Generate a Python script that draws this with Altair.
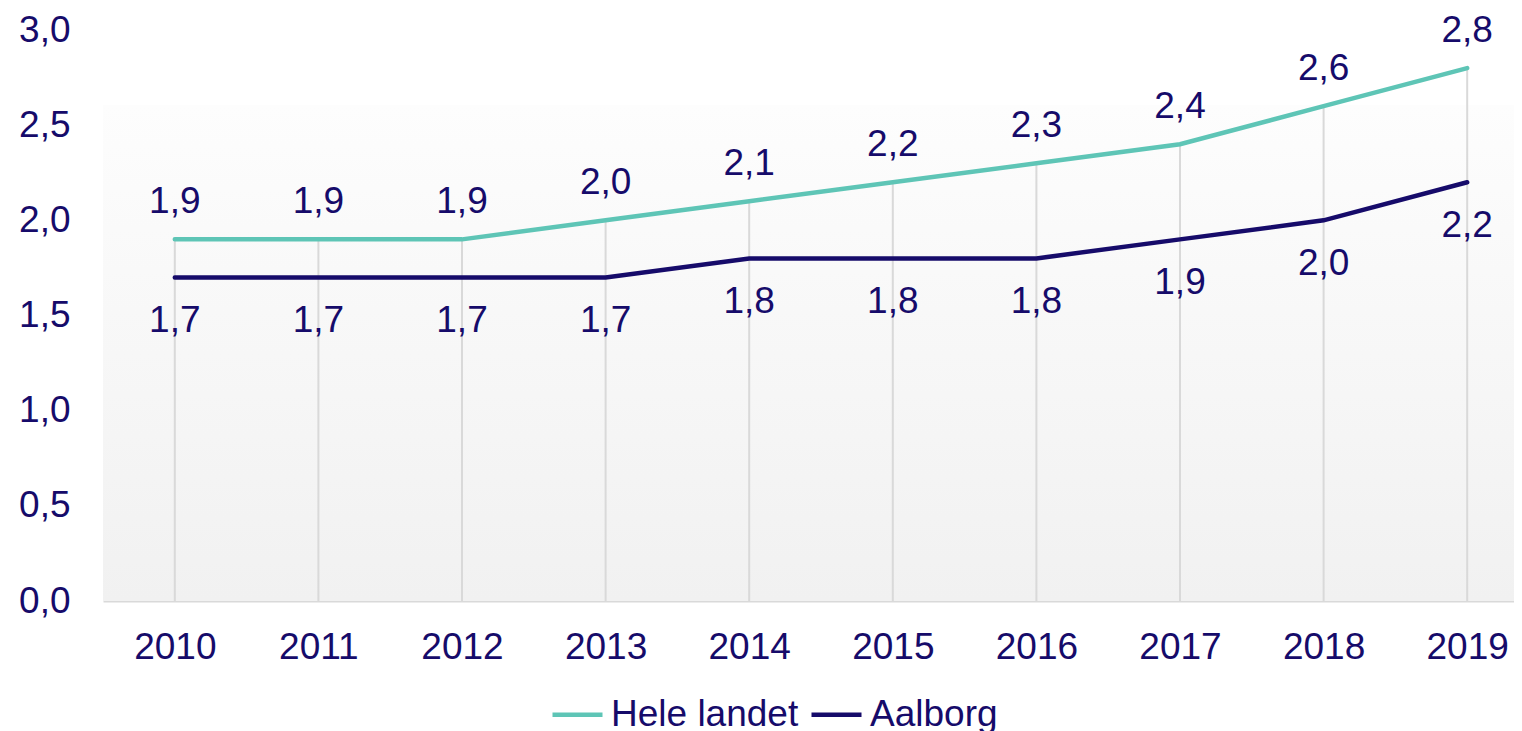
import altair as alt
import pandas as pd

years = [2010, 2011, 2012, 2013, 2014, 2015, 2016, 2017, 2018, 2019]
hele_landet = [1.9, 1.9, 1.9, 2.0, 2.1, 2.2, 2.3, 2.4, 2.6, 2.8]
aalborg = [1.7, 1.7, 1.7, 1.7, 1.8, 1.8, 1.8, 1.9, 2.0, 2.2]
series_names = ["Hele landet", "Aalborg"]
y_ticks = [0.0, 0.5, 1.0, 1.5, 2.0, 2.5, 3.0]

TEAL = "#5ec5b6"
NAVY = "#160b6a"
FONT = "Liberation Sans"

rows = []
for y, h, a in zip(years, hele_landet, aalborg):
    rows.append({"year": y, "series": "Hele landet", "value": h,
                 "label": f"{h:.1f}".replace(".", ",")})
    rows.append({"year": y, "series": "Aalborg", "value": a,
                 "label": f"{a:.1f}".replace(".", ",")})
df = pd.DataFrame(rows)
drops = pd.DataFrame({"year": years, "top": [max(h, a) for h, a in zip(hele_landet, aalborg)]})

W = 1411
H = 571
XR = 1436

xscale = alt.Scale(domain=[2009.5, 2019.5], range=[0, XR])
yscale = alt.Scale(domain=[0, 3])

bg = alt.Chart(pd.DataFrame({"a": [0]})).mark_rect(
    fill=alt.LinearGradient(
        gradient="linear",
        stops=[alt.GradientStop(color="#fdfdfd", offset=0),
               alt.GradientStop(color="#f1f1f1", offset=1)],
        x1=0, x2=0, y1=0, y2=1,
    )
).encode(x=alt.value(0), x2=alt.value(XR), y=alt.value(75), y2=alt.value(H))

xaxis = alt.Axis(values=years, format="d", ticks=False, grid=False, domain=True,
                 domainColor="#d9d9d9", domainWidth=2, labelPadding=28,
                 labelFontSize=37, labelColor=NAVY, labelFont=FONT, title=None)
yaxis = alt.Axis(values=y_ticks, ticks=False, grid=False, domain=False,
                 labelExpr="replace(format(datum.value, '.1f'), '.', ',')",
                 labelPadding=33, labelFontSize=37, labelColor=NAVY, labelFont=FONT,
                 title=None)

rules = alt.Chart(drops).mark_rule(color="#d9d9d9", strokeWidth=2).encode(
    x=alt.X("year:Q", scale=xscale, axis=xaxis),
    y=alt.Y("top:Q", scale=yscale, axis=yaxis),
    y2=alt.datum(0),
)

lines = alt.Chart(df).mark_line(strokeWidth=4.5, strokeCap="round").encode(
    x=alt.X("year:Q", scale=xscale),
    y=alt.Y("value:Q", scale=yscale),
    color=alt.Color("series:N",
                    scale=alt.Scale(domain=series_names, range=[TEAL, NAVY]),
                    sort=series_names,
                    legend=alt.Legend(title=None, orient="none", legendX=447, legendY=657,
                                      direction="horizontal", symbolType="stroke",
                                      symbolSize=2500, symbolStrokeWidth=4.5,
                                      labelFontSize=37, labelFont=FONT, labelColor=NAVY,
                                      labelOffset=6, columnPadding=3, labelLimit=0)),
)

txt_hele = alt.Chart(df).transform_filter(alt.datum.series == "Hele landet").mark_text(
    fontSize=37, font=FONT, color=NAVY, dy=-37, baseline="middle"
).encode(x=alt.X("year:Q", scale=xscale), y=alt.Y("value:Q", scale=yscale), text="label:N")

txt_aal = alt.Chart(df).transform_filter(alt.datum.series == "Aalborg").mark_text(
    fontSize=37, font=FONT, color=NAVY, dy=44, baseline="middle"
).encode(x=alt.X("year:Q", scale=xscale), y=alt.Y("value:Q", scale=yscale), text="label:N")

chart = alt.layer(bg, rules, lines, txt_hele, txt_aal).properties(
    width=W, height=H,
    background="white",
    autosize=alt.AutoSizeParams(type="none"),
    padding={"left": 95, "top": 22, "right": 0, "bottom": 130},
).configure_view(stroke=None)

chart.save("out.html", embed_options={"renderer": "svg", "actions": False})
